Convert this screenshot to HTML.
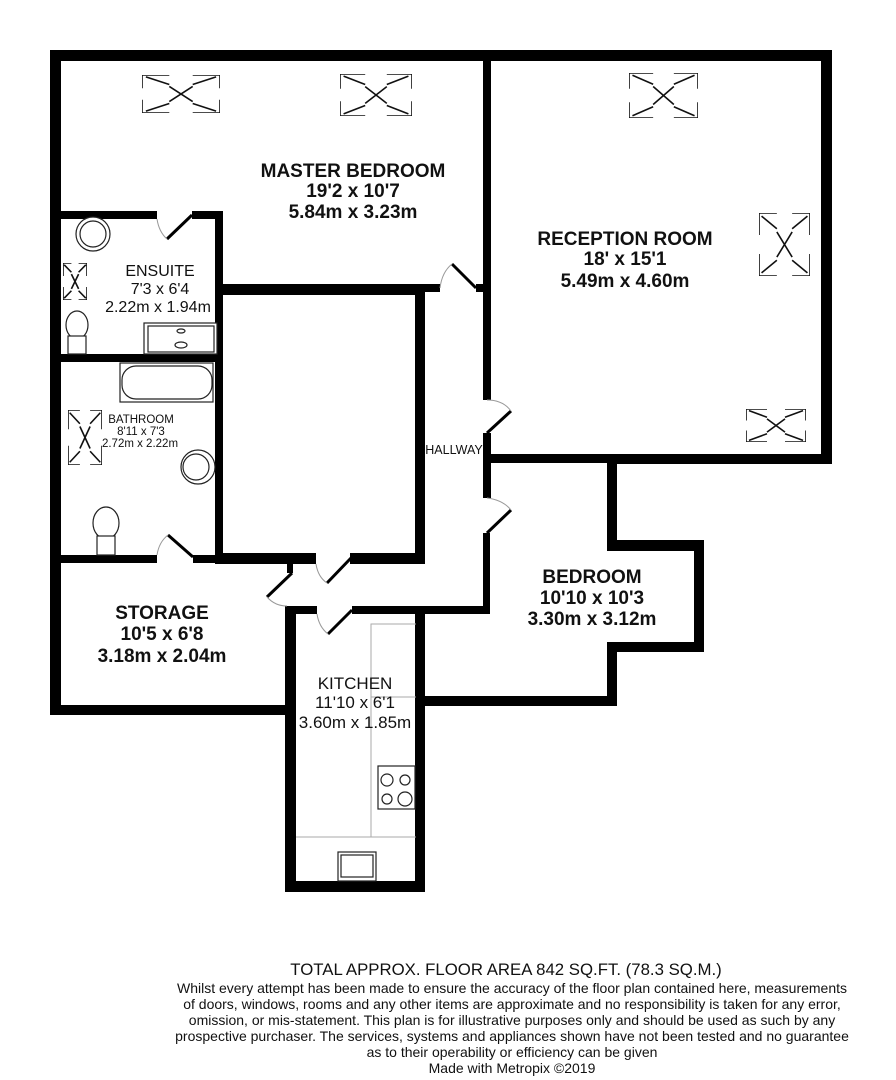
<!DOCTYPE html>
<html><head><meta charset="utf-8"><style>
html,body{margin:0;padding:0;background:#fff;}
svg{display:block;}
text{font-family:"Liberation Sans",Arial,sans-serif;fill:#111;}
.b{font-weight:bold;font-size:19px;}
</style></head><body>
<svg width="896" height="1080" viewBox="0 0 896 1080" xmlns="http://www.w3.org/2000/svg">
<defs>
<symbol id="sky" viewBox="0 0 100 100" preserveAspectRatio="none">
<path vector-effect="non-scaling-stroke" fill="none" stroke="#111" stroke-width="1.6" d="M0,35V0H35M5,5L35,25M65,0H100V35M95,5L65,25M0,65V100H35M5,95L35,75M65,100H100V65M95,95L65,75M35,30L65,70M65,30L35,70"/>
</symbol>
</defs>
<g fill="#000">
<rect x="50" y="50" width="782" height="11"/>
<rect x="50" y="50" width="11" height="665"/>
<rect x="821" y="50" width="11" height="414"/>
<rect x="608" y="454" width="224" height="10"/>
<rect x="483" y="50" width="8" height="350"/>
<rect x="483" y="433" width="8" height="65"/>
<rect x="483" y="454" width="130" height="9"/>
<rect x="483" y="533" width="7" height="81"/>
<rect x="607" y="454" width="10" height="96"/>
<rect x="607" y="540" width="97" height="11"/>
<rect x="694" y="540" width="10" height="112"/>
<rect x="607" y="642" width="97" height="10"/>
<rect x="607" y="642" width="10" height="64"/>
<rect x="415" y="696" width="202" height="10"/>
<rect x="352" y="606" width="138" height="8"/>
<rect x="285" y="606" width="32" height="8"/>
<rect x="285" y="606" width="11" height="286"/>
<rect x="415" y="606" width="10" height="286"/>
<rect x="285" y="881" width="140" height="11"/>
<rect x="50" y="705" width="246" height="10"/>
<rect x="287" y="555" width="6" height="18"/>
<rect x="61" y="211" width="96" height="8"/>
<rect x="192" y="211" width="31" height="8"/>
<rect x="215" y="211" width="8" height="352"/>
<rect x="61" y="354" width="162" height="8"/>
<rect x="61" y="555" width="96" height="8"/>
<rect x="193" y="555" width="22" height="8"/>
<rect x="215" y="284" width="210" height="11"/>
<rect x="425" y="284" width="15" height="8"/>
<rect x="476" y="284" width="10" height="8"/>
<rect x="415" y="284" width="10" height="279"/>
<rect x="215" y="553" width="101" height="11"/>
<rect x="350" y="553" width="75" height="11"/>
</g>
<g stroke="#000" stroke-width="3" fill="none">
<line x1="192" y1="215" x2="167" y2="239"/>
<line x1="476" y1="288" x2="452" y2="264"/>
<line x1="487" y1="433" x2="511" y2="411"/>
<line x1="487" y1="533" x2="511" y2="510"/>
<line x1="351" y1="558" x2="327" y2="583"/>
<line x1="292" y1="573" x2="267" y2="597"/>
<line x1="352" y1="610" x2="328" y2="634"/>
<line x1="193" y1="557" x2="168" y2="535"/>
</g>
<g stroke="#999" stroke-width="1" fill="none">
<path d="M157,219 Q159,232 167,239"/>
<path d="M440,288 Q442,272 452,264"/>
<path d="M487,400 Q503,400 511,411"/>
<path d="M487,498 Q503,500 511,510"/>
<path d="M316,564 Q318,577 327,583"/>
<path d="M267,597 Q275,606 287,606"/>
<path d="M317,614 Q319,627 328,634"/>
<path d="M157,555 Q159,542 168,535"/>
</g>
<use href="#sky" x="142" y="75" width="78" height="38"/>
<use href="#sky" x="340" y="74" width="72" height="42"/>
<use href="#sky" x="629" y="73" width="69" height="45"/>
<use href="#sky" x="759" y="213" width="51" height="63"/>
<use href="#sky" x="746" y="409" width="60" height="33"/>
<use href="#sky" x="63" y="263" width="24" height="37"/>
<use href="#sky" x="68" y="410" width="34" height="55"/>
<g stroke="#222" stroke-width="1.2" fill="#fff">
<circle cx="93" cy="234" r="17"/><circle cx="93" cy="234" r="13"/>
<ellipse cx="77" cy="325" rx="11" ry="14"/><rect x="68" y="336" width="18" height="18"/>
<rect x="144" y="323" width="73" height="31"/><rect x="148" y="326" width="66" height="26"/>
<ellipse cx="181" cy="331" rx="4" ry="2"/><ellipse cx="181" cy="345" rx="6" ry="3"/>
<rect x="120" y="363" width="93" height="39"/><rect x="122" y="366" width="90" height="33" rx="14"/>
<circle cx="198" cy="467" r="17"/><circle cx="196" cy="467" r="13"/>
<ellipse cx="106" cy="523" rx="13" ry="16"/><rect x="97" y="536" width="18" height="19"/>
<rect x="378" y="766" width="37" height="43"/>
<circle cx="387" cy="780" r="6"/><circle cx="405" cy="780" r="5"/><circle cx="387" cy="799" r="5"/><circle cx="405" cy="799" r="7"/>
<rect x="338" y="852" width="38" height="29"/><rect x="341" y="855" width="32" height="22"/>
</g>
<g stroke="#aaa" stroke-width="1" fill="none">
<path d="M371,837V624H416M371,697H416M296,837H416"/>
</g>
<g text-anchor="middle">
<text class="b" x="353" y="177">MASTER BEDROOM</text>
<text class="b" x="353" y="197">19'2 x 10'7</text>
<text class="b" x="353" y="218">5.84m x 3.23m</text>
<text class="b" x="625" y="245">RECEPTION ROOM</text>
<text class="b" x="625" y="265">18' x 15'1</text>
<text class="b" x="625" y="287">5.49m x 4.60m</text>
<text x="160" y="276" font-size="16">ENSUITE</text>
<text x="160" y="294" font-size="16">7'3 x 6'4</text>
<text x="158" y="312" font-size="16">2.22m x 1.94m</text>
<text x="141" y="423" font-size="11.5">BATHROOM</text>
<text x="141" y="435" font-size="11.5">8'11 x 7'3</text>
<text x="140" y="447" font-size="11.5">2.72m x 2.22m</text>
<text x="454" y="454" font-size="12.5">HALLWAY</text>
<text class="b" x="162" y="619">STORAGE</text>
<text class="b" x="162" y="640">10'5 x 6'8</text>
<text class="b" x="162" y="662">3.18m x 2.04m</text>
<text x="355" y="689" font-size="17">KITCHEN</text>
<text x="355" y="708" font-size="17">11'10 x 6'1</text>
<text x="355" y="728" font-size="17">3.60m x 1.85m</text>
<text class="b" x="592" y="583">BEDROOM</text>
<text class="b" x="592" y="604">10'10 x 10'3</text>
<text class="b" x="592" y="625">3.30m x 3.12m</text>
<text x="506" y="975" font-size="16.8">TOTAL APPROX. FLOOR AREA 842 SQ.FT. (78.3 SQ.M.)</text>
<g font-size="14">
<text x="512" y="993">Whilst every attempt has been made to ensure the accuracy of the floor plan contained here, measurements</text>
<text x="512" y="1009">of doors, windows, rooms and any other items are approximate and no responsibility is taken for any error,</text>
<text x="512" y="1025">omission, or mis-statement. This plan is for illustrative purposes only and should be used as such by any</text>
<text x="512" y="1041">prospective purchaser. The services, systems and appliances shown have not been tested and no guarantee</text>
<text x="512" y="1057">as to their operability or efficiency can be given</text>
<text x="512" y="1073">Made with Metropix ©2019</text>
</g>
</g>
</svg>
</body></html>
